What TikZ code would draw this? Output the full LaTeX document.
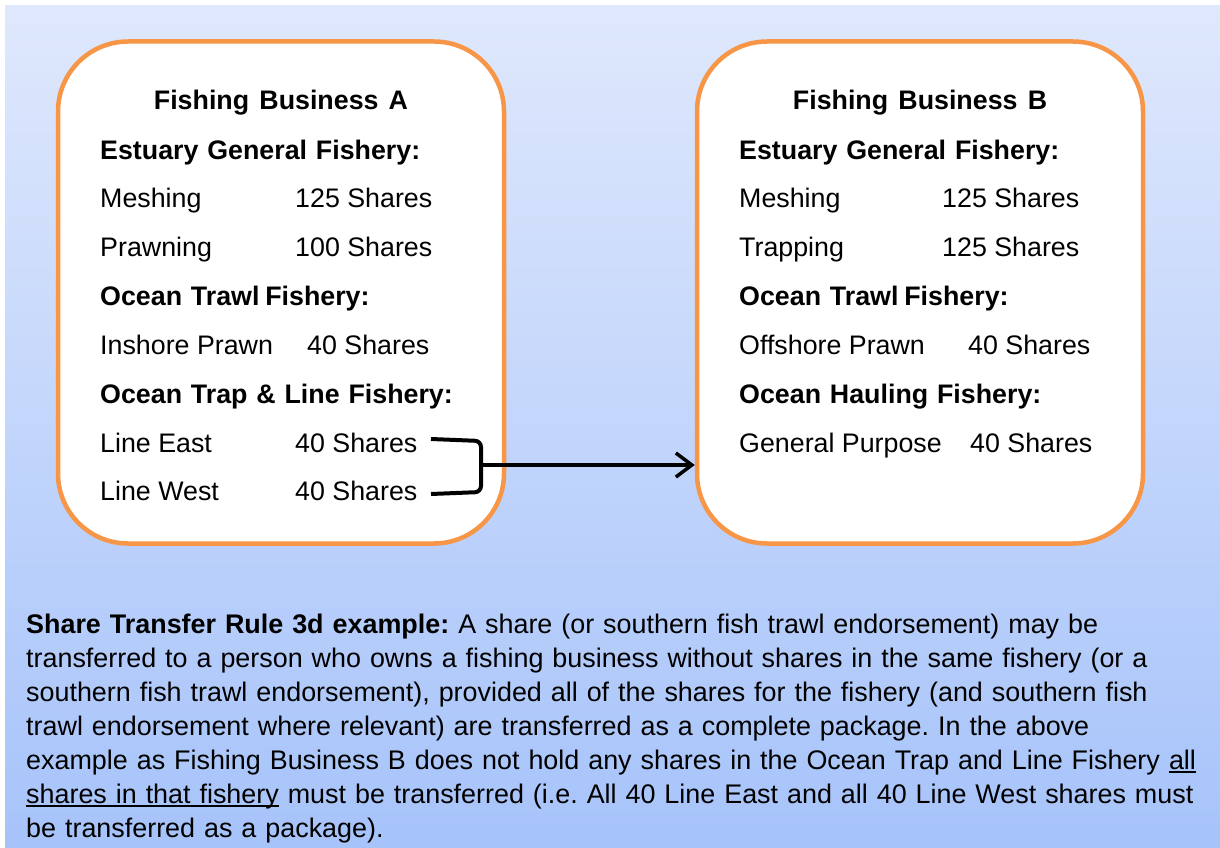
\documentclass[tikz,border=0pt]{standalone}
\usepackage{fontspec}
\setmainfont{Liberation Sans}
\usetikzlibrary{positioning,arrows.meta,shapes}
\definecolor{bizorange}{RGB}{247,150,70}
\definecolor{skytop}{RGB}{223,232,252}
\definecolor{skybot}{RGB}{166,195,250}
\newcommand{\shr}[1]{#1 Shares}
\newcommand{\ulpart}[1]{\leavevmode\setbox0\hbox{#1}\rlap{\rule[-3.5pt]{\wd0}{1.8pt}}\box0\relax}
\newcommand{\hdfont}{\fontsize{26.8}{30}\selectfont\bfseries\spaceskip0.38em\relax}
\newcommand{\sectfont}{\fontsize{26.8}{30}\selectfont\bfseries\spaceskip0.33em\relax}

\begin{document}
\begin{tikzpicture}[x=1pt,y=-1pt]
\tikzstyle{biz}=[rectangle, rounded corners=70pt, draw=bizorange, line width=4.5pt, fill=white, minimum width=446pt, minimum height=502pt]
\tikzstyle{head}=[anchor=base, inner sep=0pt, font=\hdfont]
\tikzstyle{sect}=[anchor=base west, inner sep=0pt, font=\sectfont]
\tikzstyle{item}=[anchor=base west, inner sep=0pt, font=\fontsize{26.8}{30}\selectfont]
\tikzstyle{para}=[anchor=north west, inner sep=0pt, text width=1215pt, align=left, font=\fontsize{26.9}{33.9}\selectfont\frenchspacing]
\tikzstyle{connect}=[line width=4pt, black]

	\pgfmathsetmacro{\posh}{639};

	% background
	\path[use as bounding box] (0,0) rectangle (1220,848);
	\fill[white] (0,0) rectangle (1220,848);
	\shade[top color=skytop, bottom color=skybot] (5,6) rectangle (1220,848);

	\node[biz] (busA) at (281,292.5) {};
	\node[biz] (busB) at (\posh+281,292.5) {};

	% business A
	\node[head] (hdA) at (281,110) {Fishing Business A};
	\node[sect] (egA) at (100,159) {Estuary General Fishery:};
	\node[item] (meA) at (100,207.5) {Meshing};
	\node[item] (meAs) at (295,207.5) {\shr{125}};
	\node[item] (prA) at (100,256.5) {Prawning};
	\node[item] (prAs) at (295,256.5) {\shr{100}};
	\node[sect] (otA) at (100,305.5) {Ocean Trawl\hspace{-3pt} Fishery:};
	\node[item] (ipA) at (100,354.5) {Inshore Prawn};
	\node[item] (ipAs) at (307,354.5) {\shr{40}};
	\node[sect] (tlA) at (100,403) {Ocean Trap \& Line Fishery:};
	\node[item] (leA) at (100,452) {Line East};
	\node[item] (leAs) at (295,452) {\shr{40}};
	\node[item] (lwA) at (100,500) {Line West};
	\node[item] (lwAs) at (295,500) {\shr{40}};

	% business B
	\node[head] (hdB) at (\posh+281,110) {Fishing Business B};
	\node[sect] (egB) at (\posh+100,159) {Estuary General Fishery:};
	\node[item] (meB) at (\posh+100,207.5) {Meshing};
	\node[item] (meBs) at (\posh+303,207.5) {\shr{125}};
	\node[item] (trB) at (\posh+100,256.5) {Trapping};
	\node[item] (trBs) at (\posh+303,256.5) {\shr{125}};
	\node[sect] (otB) at (\posh+100,305.5) {Ocean Trawl\hspace{-3pt} Fishery:};
	\node[item] (opB) at (\posh+100,354.5) {Offshore Prawn};
	\node[item] (opBs) at (\posh+329,354.5) {\shr{40}};
	\node[sect] (ohB) at (\posh+100,403) {Ocean Hauling Fishery:};
	\node[item] (gpB) at (\posh+100,452) {General Purpose};
	\node[item] (gpBs) at (\posh+331,452) {\shr{40}};

	% bracket and arrow
	\coordinate (brT) at (431,439);
	\coordinate (brB) at (431,494);
	\coordinate (brM) at (481,465);
	\draw[connect, rounded corners=6pt] (brT) -- (481,441) -- (481,492) -- (brB);
	\draw[connect, line width=3.5pt, -{Straight Barb[length=16pt,width=24pt]}] (brM) -- (brM -| busB.west);

	\node[para] (rule) at (26,614) {\textbf{Share Transfer Rule 3d example:} A share (or southern fish trawl endorsement) may be\\
transferred to a person who owns a fishing business without shares in the same fishery (or a\\
southern fish trawl endorsement), provided all of the shares for the fishery (and southern fish\\
trawl endorsement where relevant) are transferred as a complete package. In the above\\
example as Fishing Business B does not hold any shares in the Ocean Trap and Line Fishery \ulpart{all}\\
\ulpart{shares in that fishery} must be transferred (i.e. All 40 Line East and all 40 Line West shares must\\
be transferred as a package).};

\end{tikzpicture}
\end{document}
